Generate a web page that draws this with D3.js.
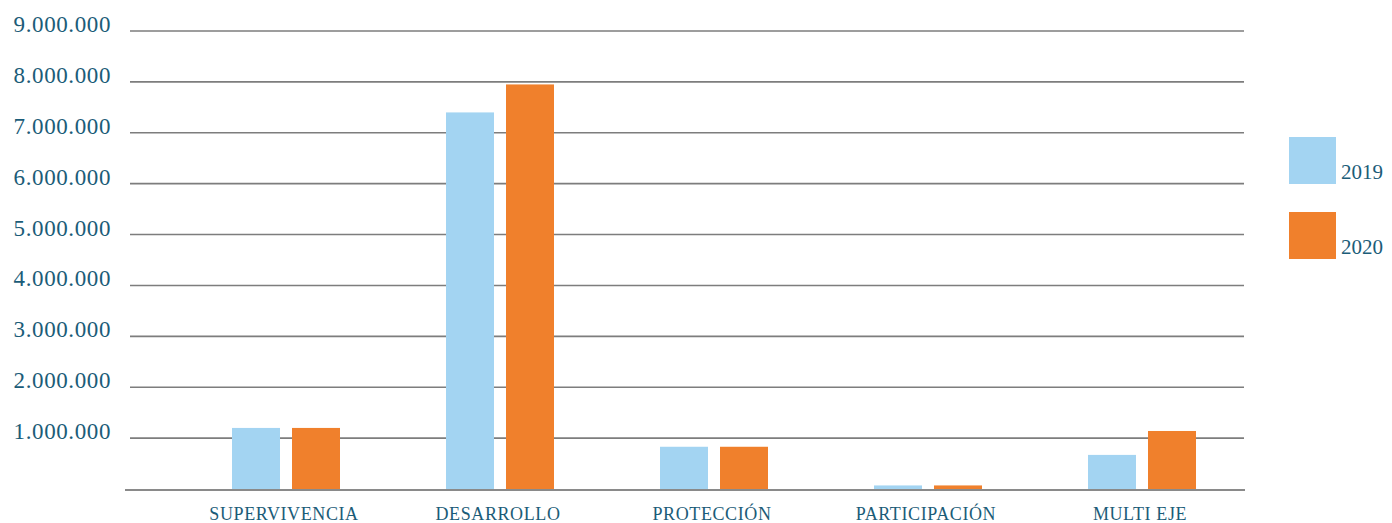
<!DOCTYPE html>
<html>
<head>
<meta charset="utf-8">
<script src="https://cdn.jsdelivr.net/npm/d3@7"></script>
<style>
  body { margin: 0; background: #fff; }
  text { font-family: "Liberation Serif", "DejaVu Serif", serif; fill: #1b5c78; }
</style>
</head>
<body>
<svg id="chart"></svg>
<script>
// categories and series
let categories = ['SUPERVIVENCIA', 'DESARROLLO', 'PROTECCIÓN', 'PARTICIPACIÓN', 'MULTI EJE']
let years = ['2019', '2020']
let values2019 = [1200000, 7400000, 830000, 70000, 670000]
let values2020 = [1200000, 7950000, 830000, 70000, 1140000]
let yTicks = [1000000, 2000000, 3000000, 4000000, 5000000, 6000000, 7000000, 8000000, 9000000]

let width = 1392
let height = 523
let colors = { '2019': '#a3d4f2', '2020': '#f0802c' }

let svg = d3.select('#chart')
  .attr('width', width)
  .attr('height', height)

let y = d3.scaleLinear()
  .domain([0, 9000000])
  .range([489, 31])

let x = d3.scaleBand()
  .domain(categories)
  .range([179, 1249])

let x1 = d3.scaleBand()
  .domain(years)
  .range([0, 108])
  .paddingInner(0.2)

let fmt = (v) => d3.format(',')(v).replace(/,/g, '.')

// gridlines
svg.append('g')
  .selectAll('line')
  .data(yTicks)
  .enter()
  .append('line')
  .attr('x1', 130)
  .attr('x2', 1244)
  .attr('y1', (d) => y(d))
  .attr('y2', (d) => y(d))
  .attr('stroke', '#7d7d7d')
  .attr('stroke-width', 1.6)

svg.append('g')
  .selectAll('text')
  .data(yTicks)
  .enter()
  .append('text')
  .attr('x', 111)
  .attr('y', (d) => y(d) + 1)
  .attr('text-anchor', 'end')
  .attr('font-size', 23)
  .attr('letter-spacing', 0.6)
  .text((d) => fmt(d))

// bars
let rows = categories.map((c, i) => ({ cat: c, vals: [values2019[i], values2020[i]] }))
let groups = svg.append('g')
  .selectAll('g')
  .data(rows)
  .enter()
  .append('g')
  .attr('transform', (d) => `translate(${x(d.cat) + x.bandwidth() / 2 - 54},0)`)

groups.selectAll('rect')
  .data((d) => d.vals.map((v, j) => ({ year: years[j], value: v })))
  .enter()
  .append('rect')
  .attr('x', (d) => x1(d.year))
  .attr('width', x1.bandwidth())
  .attr('y', (d) => y(d.value))
  .attr('height', (d) => y(0) - y(d.value))
  .attr('fill', (d) => colors[d.year])

// baseline
svg.append('line')
  .attr('x1', 125)
  .attr('x2', 1245)
  .attr('y1', y(0) + 1)
  .attr('y2', y(0) + 1)
  .attr('stroke', '#8a8a8a')
  .attr('stroke-width', 2.2)

// category labels
svg.append('g')
  .selectAll('text')
  .data(categories)
  .enter()
  .append('text')
  .attr('x', (d) => x(d) + x.bandwidth() / 2 - 2)
  .attr('y', 520)
  .attr('text-anchor', 'middle')
  .attr('font-size', 18)
  .attr('letter-spacing', 0.6)
  .text((d) => d)

// legend
let legend = svg.append('g')
  .selectAll('g')
  .data(years)
  .enter()
  .append('g')
  .attr('transform', (d, i) => `translate(1289,${137 + i * 75})`)

legend.append('rect')
  .attr('width', 47)
  .attr('height', 47)
  .attr('fill', (d) => colors[d])

legend.append('text')
  .attr('x', 52)
  .attr('y', 42)
  .attr('font-size', 21)
  .text((d) => d)
</script>
</body>
</html>
